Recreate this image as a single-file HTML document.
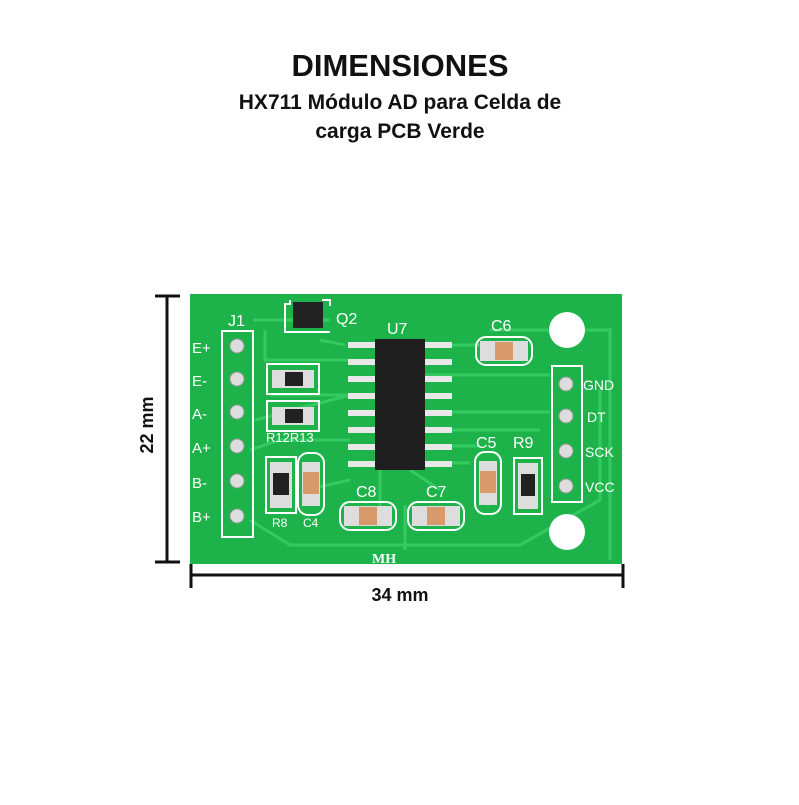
<!DOCTYPE html><html><head><style>body{margin:0;background:#fff;width:799px;height:800px;overflow:hidden;font-family:"Liberation Sans",sans-serif}</style></head><body>
<svg width="799" height="800" viewBox="0 0 799 800" xmlns="http://www.w3.org/2000/svg">
<text x="400" y="76" text-anchor="middle" font-size="31" font-weight="bold" fill="#111">DIMENSIONES</text>
<text x="400" y="109" text-anchor="middle" font-size="21" font-weight="bold" fill="#111">HX711 Módulo AD para Celda de</text>
<text x="400" y="138" text-anchor="middle" font-size="21" font-weight="bold" fill="#111">carga PCB Verde</text>
<g stroke="#111" stroke-width="3"><line x1="167" y1="296" x2="167" y2="562"/><line x1="155" y1="296" x2="180" y2="296"/><line x1="155" y1="562" x2="180" y2="562"/>
<line x1="191" y1="575" x2="623" y2="575"/><line x1="191" y1="564" x2="191" y2="588"/><line x1="623" y1="564" x2="623" y2="588"/></g>
<text x="400" y="601" text-anchor="middle" font-size="18" font-weight="bold" fill="#111">34 mm</text>
<text transform="translate(153,425) rotate(-90)" text-anchor="middle" font-size="18" font-weight="bold" fill="#111">22 mm</text>
<rect x="190" y="294" width="432" height="270" fill="#1db34a"/>
<g fill="none" stroke="#3ccf66" stroke-width="3" opacity="0.8">
<path d="M253 320 H330 M320 340 L345 345 M265 330 V360 H350 M270 395 H350 M255 420 L350 395 M250 450 L280 440 H350 M425 345 H480 M425 375 H550 M425 412 H550 M425 430 H540 M425 446 H480 M425 463 L470 463 M380 470 V520 M410 470 L440 490 M305 490 L350 480 M250 520 L290 545 H520 L600 500 V390 M490 330 H610 V560 M405 505 V550"/>
</g>
<circle cx="567" cy="330" r="18" fill="#fff"/><circle cx="567" cy="532" r="18" fill="#fff"/>
<g fill="none" stroke="#fff" stroke-width="2">
<rect x="222" y="331" width="31" height="206"/><rect x="552" y="366" width="30" height="136"/>
<rect x="267" y="364" width="52" height="30"/><rect x="267" y="401" width="52" height="30"/>
<rect x="266" y="457" width="30" height="56"/><rect x="298" y="453" width="26" height="62" rx="10"/>
<rect x="475" y="452" width="26" height="62" rx="10"/><rect x="514" y="458" width="28" height="56"/>
<rect x="340" y="502" width="56" height="28" rx="10"/><rect x="408" y="502" width="56" height="28" rx="10"/>
<rect x="476" y="337" width="56" height="28" rx="10"/><path d="M290 300 V304 H285 V332 H330 M322 300 H330 V306"/>
</g>
<g fill="#ddd" stroke="#999"><circle cx="237" cy="346" r="7"/><circle cx="237" cy="379" r="7"/><circle cx="237" cy="412" r="7"/><circle cx="237" cy="446" r="7"/><circle cx="237" cy="481" r="7"/><circle cx="237" cy="516" r="7"/>
<circle cx="566" cy="384" r="7"/><circle cx="566" cy="416" r="7"/><circle cx="566" cy="451" r="7"/><circle cx="566" cy="486" r="7"/></g>
<g fill="#e8e8e8">
<rect x="348" y="342" width="28" height="6"/><rect x="348" y="359" width="28" height="6"/><rect x="348" y="376" width="28" height="6"/><rect x="348" y="393" width="28" height="6"/><rect x="348" y="410" width="28" height="6"/><rect x="348" y="427" width="28" height="6"/><rect x="348" y="444" width="28" height="6"/><rect x="348" y="461" width="28" height="6"/>
<rect x="424" y="342" width="28" height="6"/><rect x="424" y="359" width="28" height="6"/><rect x="424" y="376" width="28" height="6"/><rect x="424" y="393" width="28" height="6"/><rect x="424" y="410" width="28" height="6"/><rect x="424" y="427" width="28" height="6"/><rect x="424" y="444" width="28" height="6"/><rect x="424" y="461" width="28" height="6"/>
</g>
<rect x="375" y="339" width="50" height="131" fill="#1e1e1e"/>
<rect x="293" y="302" width="30" height="26" fill="#222"/>
<g fill="#ddd"><rect x="272" y="370" width="42" height="18"/><rect x="272" y="407" width="42" height="18"/><rect x="270" y="462" width="22" height="46"/><rect x="518" y="463" width="20" height="46"/>
<rect x="302" y="462" width="18" height="44"/><rect x="479" y="461" width="18" height="44"/><rect x="344" y="506" width="48" height="20"/><rect x="412" y="506" width="48" height="20"/><rect x="480" y="341" width="48" height="20"/></g>
<g fill="#222"><rect x="285" y="372" width="18" height="14"/><rect x="285" y="409" width="18" height="14"/><rect x="273" y="473" width="16" height="22"/><rect x="521" y="474" width="14" height="22"/></g>
<g fill="#d89a6a"><rect x="303" y="472" width="16" height="22"/><rect x="480" y="471" width="16" height="22"/><rect x="359" y="507" width="18" height="18"/><rect x="427" y="507" width="18" height="18"/><rect x="495" y="342" width="18" height="18"/></g>
<g fill="#fff" font-size="15" font-family="Liberation Sans,sans-serif">
<text x="192" y="353">E+</text><text x="192" y="386">E-</text><text x="192" y="419">A-</text><text x="192" y="453">A+</text><text x="192" y="488">B-</text><text x="192" y="522">B+</text>
<text x="228" y="326" font-size="16">J1</text><text x="336" y="324" font-size="16">Q2</text><text x="387" y="334" font-size="16">U7</text><text x="491" y="331" font-size="16">C6</text>
<text x="583" y="390" font-size="14">GND</text><text x="587" y="422" font-size="14">DT</text><text x="585" y="457" font-size="14">SCK</text><text x="585" y="492" font-size="14">VCC</text>
<text x="266" y="442" font-size="13">R12R13</text><text x="476" y="448" font-size="16">C5</text><text x="513" y="448" font-size="16">R9</text>
<text x="356" y="497" font-size="16">C8</text><text x="426" y="497" font-size="16">C7</text><text x="272" y="527" font-size="12">R8</text><text x="303" y="527" font-size="12">C4</text>
<text x="372" y="563" font-family="Liberation Serif,serif" font-weight="bold" font-size="14">MH</text></g>
</svg></body></html>
